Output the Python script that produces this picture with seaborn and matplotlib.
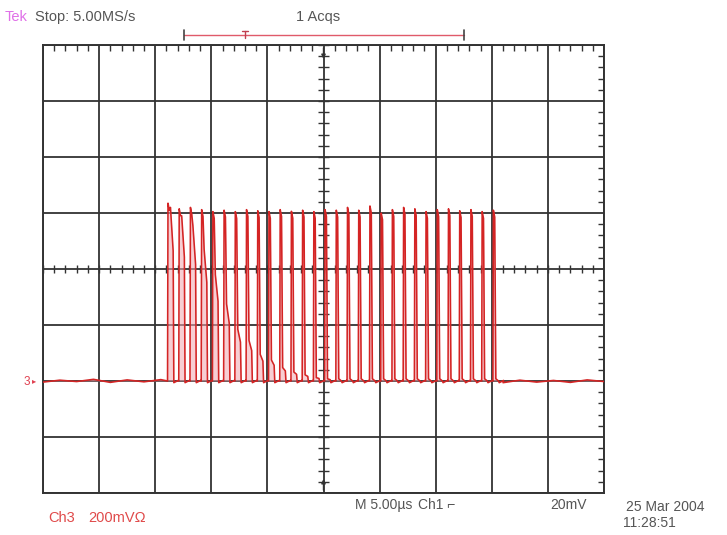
import numpy as np
import pandas as pd
import matplotlib
matplotlib.use("Agg")
import matplotlib.pyplot as plt
import seaborn as sns

# ---- data (time in µs, voltage in mV relative to Ch3 ground) ----
pulse_times = [11.1, 12.1, 13.1, 14.1, 15.1, 16.1, 17.1, 18.1, 19.1, 20.1,
               21.1, 22.1, 23.1, 24.1, 25.1, 26.1, 27.1, 28.1, 29.1, 30.1,
               31.1, 32.1, 33.1, 34.1, 35.1, 36.1, 37.1, 38.1, 39.1, 40.1]
pulse_peaks = [635, 615, 620, 612, 605, 610, 605, 612, 608, 605,
               612, 606, 610, 605, 612, 610, 620, 610, 625, 600,
               612, 620, 615, 605, 612, 615, 608, 612, 605, 610]
pulse_shoulders = [620, 590, 555, 470, 380, 275, 185, 145, 95, 75,
                   48, 32, 22, 12, 6, 0, 0, 0, 0, 0,
                   0, 0, 0, 0, 0, 0, 0, 0, 0, 0]
noise_times = [0, 1.5, 3, 4.5, 6, 7.5, 9, 10.5, 41, 42.5, 44, 45.5, 47, 48.5, 50]
noise_values = [-4, 3, -2, 6, -5, 4, -3, 5, -6, 3, -4, 2, -5, 4, -2]

# ---- build the waveform from the listed values ----
t_pts, v_pts = [], []
for tn, vn in zip(noise_times[:8], noise_values[:8]):
    t_pts.append(tn); v_pts.append(vn)
for tk, pk, sk in zip(pulse_times, pulse_peaks, pulse_shoulders):
    t_pts += [tk, tk + 0.04, tk + 0.16, tk + 0.26, tk + 0.5, tk + 0.56, tk + 0.95]
    v_pts += [0, pk, pk * 0.96, max(sk, 8), sk * 0.75, -6, 2]
for tn, vn in zip(noise_times[8:], noise_values[8:]):
    t_pts.append(tn); v_pts.append(vn)
wave = pd.DataFrame({"time_us": t_pts, "mV": v_pts})

sns.set_style("white")
plt.rcParams['font.family'] = ['Liberation Sans', 'DejaVu Sans']

W, H = 727, 535
fig = plt.figure(figsize=(W / 100, H / 100), dpi=100)
fig.patch.set_facecolor("white")
L, R, T, B = 43, 604, 45, 493
ax = fig.add_axes([L / W, 1 - B / H, (R - L) / W, (B - T) / H])

grid_c = "#333333"
ax.fill_between(wave["time_us"], 0, wave["mV"].clip(lower=0),
                color="#f2a6b0", alpha=0.55, linewidth=0, zorder=2)
sns.lineplot(data=wave, x="time_us", y="mV", sort=False, estimator=None,
             color="#d42424", linewidth=1.15, ax=ax, zorder=3)

ax.set_xlim(0, 50)
ax.set_ylim(-400, 1200)
ax.set_xticks(np.arange(0, 51, 5))
ax.set_yticks(np.arange(-400, 1201, 200))
ax.set_xticks(np.arange(0, 50.01, 1), minor=True)
ax.set_yticks(np.arange(-400, 1200.1, 40), minor=True)
ax.grid(True, which="major", color=grid_c, linewidth=1.3)
ax.set_axisbelow(True)
ax.tick_params(which="both", direction="in", top=True, right=True,
               labelbottom=False, labelleft=False, color=grid_c)
ax.tick_params(which="major", length=0)
ax.tick_params(which="minor", length=4, width=1.0)
for s in ax.spines.values():
    s.set_color(grid_c)
    s.set_linewidth(1.4)
ax.set_xlabel(""); ax.set_ylabel("")

# tick marks along the centre cross
minor_x = np.arange(0, 50.01, 1)
minor_y = np.arange(-400, 1200.1, 40)
ax.vlines(minor_x, 400 - 14, 400 + 14, color=grid_c, linewidth=1.0, zorder=1)
ax.hlines(minor_y, 25 - 0.45, 25 + 0.45, color=grid_c, linewidth=1.0, zorder=1)

# trigger markers at centre top/bottom
ax.annotate("", xy=(25, 1140), xytext=(25, 1200),
            arrowprops=dict(arrowstyle="-|>", color=grid_c, lw=1, mutation_scale=6))
ax.annotate("", xy=(25, -340), xytext=(25, -400),
            arrowprops=dict(arrowstyle="-|>", color=grid_c, lw=1, mutation_scale=6))

def ft(x, y, s, **kw):
    fig.text(x / W, 1 - y / H, s, va="center", **kw)

fs = 10.5
ft(5, 17, "Tek", color="#e070e8", fontsize=fs)
ft(35, 17, "Stop: 5.00MS/s", color="#555555", fontsize=fs)
ft(296, 17, "1 Acqs", color="#555555", fontsize=fs)

# record-position bar
fig.add_artist(plt.Line2D([184 / W, 464 / W], [1 - 35 / H] * 2, color="#e05a6a", lw=1.0))
fig.add_artist(plt.Line2D([184 / W] * 2, [1 - 30 / H, 1 - 40 / H], color="#444444", lw=1.2))
fig.add_artist(plt.Line2D([464 / W] * 2, [1 - 30 / H, 1 - 40 / H], color="#444444", lw=1.2))
fig.add_artist(plt.Line2D([245 / W] * 2, [1 - 31 / H, 1 - 38 / H], color="#c04050", lw=1.0))
fig.add_artist(plt.Line2D([242 / W, 248 / W], [1 - 31 / H] * 2, color="#c04050", lw=1.0))

# channel ground marker
ft(24, 382, "3", color="#e04050", fontsize=8.5)
ft(32, 382, "\u25B8", color="#e04050", fontsize=6)

ft(48, 518, "Ch3", color="#e04a4a", fontsize=fs)
ft(88, 518, "200mV\u03A9", color="#e04a4a", fontsize=fs)
ft(355, 505, "M 5.00\u00b5s", color="#555555", fontsize=10)
ft(418, 505, "Ch1 \u2310", color="#555555", fontsize=10)
ft(550, 505, "20mV", color="#555555", fontsize=10)
ft(626, 507, "25 Mar 2004", color="#555555", fontsize=10)
ft(623, 523, "11:28:51", color="#555555", fontsize=10)

fig.savefig("out.png", dpi=100, facecolor="white")
